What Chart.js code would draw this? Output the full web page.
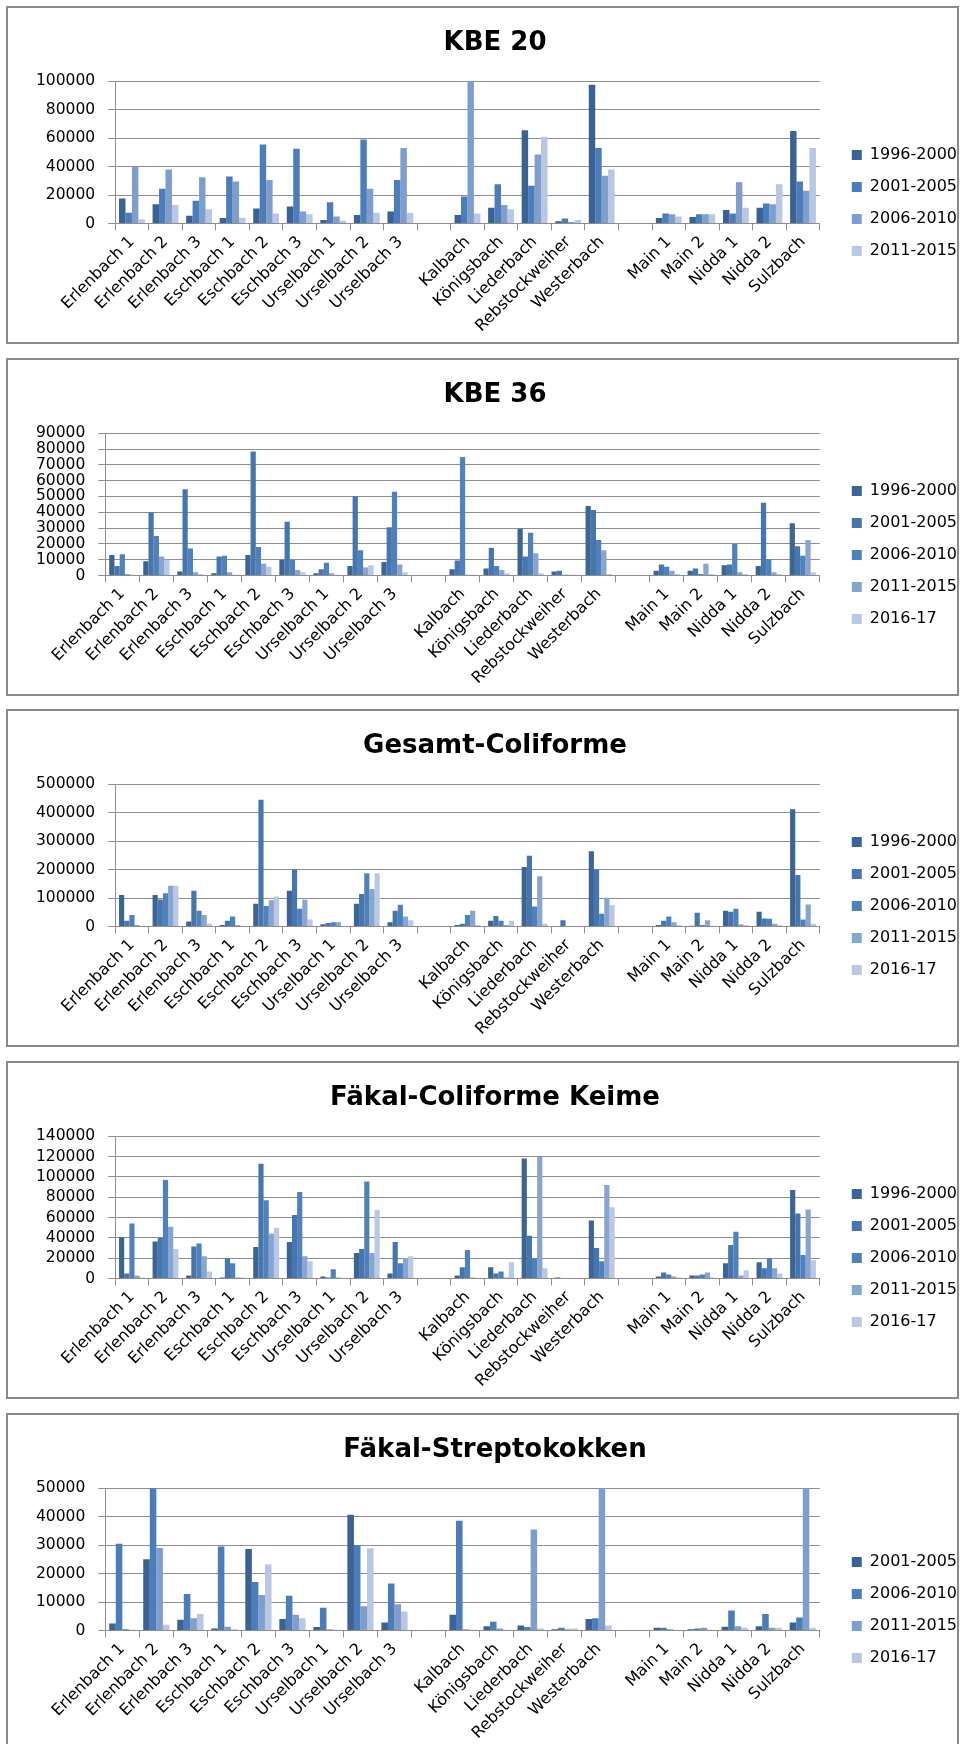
<!DOCTYPE html>
<html>
<head>
<meta charset="utf-8">
<script src="https://cdn.jsdelivr.net/npm/chart.js@4"></script>
<style>
  body { margin: 0; width: 965px; height: 1744px; overflow: hidden; background: #fff; position: relative; }
  .box { position: absolute; left: 6px; width: 953px; height: 338px; border: 2px solid #8b8b8b; box-sizing: border-box; }
  canvas { position: absolute; left: 6px; }
</style>
</head>
<body>
<div class="box" style="top:6px"></div>
<div class="box" style="top:358px"></div>
<div class="box" style="top:709px"></div>
<div class="box" style="top:1061px"></div>
<div class="box" style="top:1413px"></div>
<canvas id="kbe20" width="961" height="394" style="top:6px"></canvas>
<canvas id="kbe36" width="961" height="394" style="top:358px"></canvas>
<canvas id="gesamt" width="961" height="394" style="top:709px"></canvas>
<canvas id="faekalColi" width="961" height="394" style="top:1061px"></canvas>
<canvas id="faekalStrep" width="961" height="394" style="top:1413px"></canvas>
<script>
// Messstellen (leere Einträge = Lücke zwischen den Gruppen)
const categories = ['Erlenbach 1', 'Erlenbach 2', 'Erlenbach 3', 'Eschbach 1', 'Eschbach 2',
  'Eschbach 3', 'Urselbach 1', 'Urselbach 2', 'Urselbach 3', '',
  'Kalbach', 'Königsbach', 'Liederbach', 'Rebstockweiher', 'Westerbach', '',
  'Main 1', 'Main 2', 'Nidda 1', 'Nidda 2', 'Sulzbach'];

const periods4 = ['1996-2000', '2001-2005', '2006-2010', '2011-2015'];
const periods5 = ['1996-2000', '2001-2005', '2006-2010', '2011-2015', '2016-17'];
const periodsStrep = ['2001-2005', '2006-2010', '2011-2015', '2016-17'];

// KBE 20
const kbe20_1996 = [17500, 13500, 5500, 3800, 10500, 12000, 2500, 6000, 8500, null, 6000, 11000, 65500, 1500, 97500, null, 3800, 4500, 9500, 11000, 65000];
const kbe20_2001 = [7500, 24500, 16000, 33000, 55500, 52500, 15000, 59000, 30500, null, 19000, 27500, 26500, 3500, 53000, null, 7000, 6500, 7000, 14000, 29500];
const kbe20_2006 = [40000, 38000, 32500, 29500, 30500, 8500, 5000, 24500, 53000, null, 100000, 13000, 48500, 1000, 33500, null, 6500, 6500, 29000, 13500, 23000];
const kbe20_2011 = [3000, 13000, 10000, 4000, 7000, 6500, 2000, 7500, 7500, null, 7000, 10000, 61000, 2500, 38000, null, 5000, 6500, 11000, 27500, 53000];

// KBE 36
const kbe36_1996 = [13000, 9000, 2500, 1500, 13000, 10000, 1500, 6000, 8500, null, 4000, 4500, 29500, 2500, 44000, null, 3000, 3000, 6500, 6000, 33000];
const kbe36_2001 = [6000, 40000, 54500, 12000, 78500, 34000, 4000, 50000, 30500, null, 9500, 17500, 12000, 3000, 41500, null, 7000, 4500, 7000, 46000, 18500];
const kbe36_2006 = [13500, 25000, 17000, 12500, 18000, 10000, 8000, 16000, 53000, null, 75000, 6000, 27000, 500, 22500, null, 5500, 1000, 20000, 10500, 12500];
const kbe36_2011 = [1000, 12000, 2000, 2000, 7500, 3500, 1500, 5000, 7000, null, 500, 3500, 14000, 500, 16000, null, 3000, 7500, 2000, 2000, 22500];
const kbe36_2016 = [500, 10000, 1000, 500, 5500, 2000, 500, 6500, 2000, null, 500, 1500, 1500, 500, 1000, null, 1000, 1000, 1000, 1000, 2000];

// Gesamt-Coliforme
const coli_1996 = [111000, 111000, 18000, 5000, 80000, 126000, 8000, 80000, 15000, null, 5000, 20000, 209000, 2000, 264000, null, 5000, 3000, 55000, 52000, 412000];
const coli_2001 = [20000, 95000, 126000, 20000, 445000, 200000, 12000, 114000, 55000, null, 10000, 37000, 249000, 22000, 201000, null, 20000, 48000, 52000, 28000, 181000];
const coli_2006 = [40000, 117000, 55000, 35000, 72000, 62000, 15000, 187000, 76000, null, 40000, 20000, 70000, 2000, 45000, null, 35000, 5000, 62000, 27000, 25000];
const coli_2011 = [5000, 143000, 40000, 5000, 92000, 94000, 15000, 132000, 35000, null, 55000, 5000, 177000, 1000, 101000, null, 15000, 22000, 8000, 10000, 77000];
const coli_2016 = [2000, 143000, 10000, 2000, 105000, 25000, 2000, 187000, 22000, null, 5000, 20000, 10000, 1000, 75000, null, 5000, 3000, 5000, 5000, 10000];

// Fäkal-Coliforme Keime
const fcoli_1996 = [40500, 36500, 3000, 1000, 31000, 36000, 2000, 25000, 5000, null, 3000, 11000, 118000, 1000, 57000, null, 2000, 3000, 15000, 16000, 87000];
const fcoli_2001 = [5000, 40000, 31500, 20000, 113000, 62500, 1000, 29000, 36000, null, 11000, 5000, 42000, 500, 30000, null, 6000, 3000, 33000, 10000, 64000];
const fcoli_2006 = [54000, 97000, 34500, 15000, 77000, 85000, 9000, 95500, 15000, null, 28000, 7000, 20000, 500, 17000, null, 4000, 4000, 46000, 20000, 23000];
const fcoli_2011 = [3000, 51000, 22000, 1000, 44000, 22000, 1000, 25000, 20000, null, 1000, 1000, 120000, 500, 92000, null, 2000, 6000, 3000, 10000, 68000];
const fcoli_2016 = [1000, 29000, 7000, 1000, 50000, 17000, 500, 67500, 22000, null, 500, 16000, 10000, 500, 70000, null, 1000, 1000, 8000, 5000, 18000];

// Fäkal-Streptokokken
const strep_2001 = [2500, 25000, 3800, 700, 28600, 4000, 1200, 40700, 2800, null, 5500, 1500, 1800, 400, 4000, null, 1000, 400, 1300, 1500, 2800];
const strep_2006 = [30500, 50000, 12800, 29500, 17000, 12200, 8000, 30000, 16500, null, 38600, 3100, 1200, 1000, 4300, null, 1000, 700, 7000, 5800, 4600];
const strep_2011 = [500, 29000, 4300, 1300, 12500, 5500, 400, 8500, 9200, null, 400, 700, 35500, 400, 50000, null, 400, 1000, 1500, 1000, 50000];
const strep_2016 = [300, 2000, 5800, 400, 23200, 4300, 300, 28900, 6700, null, 300, 300, 700, 700, 1800, null, 200, 300, 1000, 1000, 1000];

Chart.defaults.font.family = "'DejaVu Sans', sans-serif";
Chart.defaults.font.size = 16;
Chart.defaults.color = '#000';

const grey = '#8e8e8e';
const blues4 = ['#3b6294', '#4a7dba', '#809ecd', '#b8c7e3'];
const blues5 = ['#3c6494', '#4775ae', '#4f81bd', '#88a4d1', '#b9c9e5'];

function barChart(id, title, periods, series, colors, yMax, yStep) {
  return new Chart(document.getElementById(id), {
    type: 'bar',
    data: {
      labels: categories,
      datasets: series.map((values, i) => ({
        label: periods[i],
        data: values,
        backgroundColor: colors[i],
        categoryPercentage: 0.77,
        barPercentage: 1
      }))
    },
    options: {
      responsive: false,
      animation: false,
      layout: { padding: { left: 17, right: 0, top: 0, bottom: 0 } },
      plugins: {
        title: {
          display: true,
          text: title,
          font: { size: 26, weight: 'bold' },
          padding: { top: 22, bottom: 22 }
        },
        legend: {
          position: 'right',
          labels: { boxWidth: 10, boxHeight: 10, padding: 16, font: { size: 16 } }
        },
        tooltip: { enabled: false }
      },
      scales: {
        x: {
          grid: { drawOnChartArea: false, tickLength: 7, color: grey, offset: true },
          border: { color: grey },
          ticks: { autoSkip: false, minRotation: 45, maxRotation: 45, padding: 2 },
          afterFit: s => { s.height = 176.5; }
        },
        y: {
          min: 0,
          max: yMax,
          ticks: { stepSize: yStep, autoSkip: false, padding: 13, font: { size: 15.5 }, callback: v => String(v) },
          grid: { color: grey, tickLength: 7 },
          border: { color: grey }
        },
        // leerer Abstand zwischen Diagramm und Legende
        gap: {
          type: 'linear',
          position: 'right',
          grid: { display: false },
          border: { display: false },
          ticks: { display: false },
          afterFit: s => { s.width = 16; }
        }
      }
    }
  });
}

barChart('kbe20', 'KBE 20', periods4,
  [kbe20_1996, kbe20_2001, kbe20_2006, kbe20_2011], blues4, 100000, 20000);
barChart('kbe36', 'KBE 36', periods5,
  [kbe36_1996, kbe36_2001, kbe36_2006, kbe36_2011, kbe36_2016], blues5, 90000, 10000);
barChart('gesamt', 'Gesamt-Coliforme', periods5,
  [coli_1996, coli_2001, coli_2006, coli_2011, coli_2016], blues5, 500000, 100000);
barChart('faekalColi', 'Fäkal-Coliforme Keime', periods5,
  [fcoli_1996, fcoli_2001, fcoli_2006, fcoli_2011, fcoli_2016], blues5, 140000, 20000);
barChart('faekalStrep', 'Fäkal-Streptokokken', periodsStrep,
  [strep_2001, strep_2006, strep_2011, strep_2016], blues4, 50000, 10000);
</script>
</body>
</html>
